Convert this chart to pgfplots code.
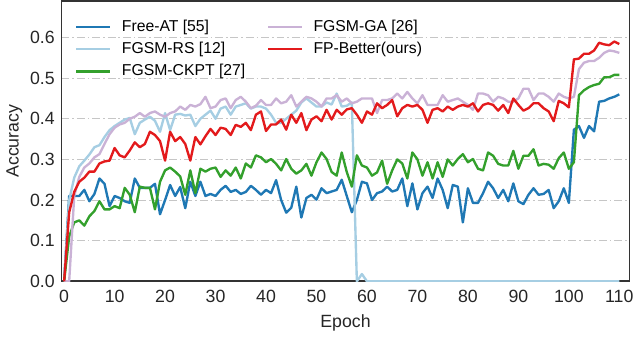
\documentclass[border=0pt]{standalone}
\usepackage{fontspec}
\setmainfont{Liberation Sans}
\usepackage{pgfplots}
\usepackage{pgfplotstable}
\pgfplotsset{compat=1.18}

\definecolor{cfree}{HTML}{1F78B4}
\definecolor{crs}{HTML}{A6CEE3}
\definecolor{cckpt}{HTML}{33A02C}
\definecolor{cga}{HTML}{CAB2D6}
\definecolor{cfp}{HTML}{E31A1C}
\definecolor{frame}{HTML}{333333}

% epoch, Free-AT, FGSM-RS, FGSM-CKPT, FGSM-GA, FP-Better
\pgfplotstableread{
ep freeat rs ckpt ga fp
0 0 0 0 0 0
1 0.21 0.20 0.11 0.0 0.17
2 0.21 0.255 0.145 0.21 0.22
3 0.21 0.283 0.15 0.257 0.245
4 0.225 0.297 0.137 0.28 0.255
5 0.197 0.312 0.16 0.29 0.27
6 0.215 0.33 0.173 0.305 0.27
7 0.253 0.335 0.197 0.313 0.29
8 0.24 0.355 0.177 0.338 0.295
9 0.185 0.372 0.177 0.362 0.297
10 0.21 0.382 0.185 0.378 0.328
11 0.205 0.39 0.18 0.386 0.31
12 0.197 0.398 0.23 0.39 0.305
13 0.193 0.402 0.213 0.40 0.322
14 0.253 0.362 0.17 0.405 0.342
15 0.23 0.39 0.233 0.414 0.33
16 0.23 0.398 0.23 0.405 0.338
17 0.23 0.405 0.23 0.414 0.368
18 0.24 0.395 0.177 0.418 0.36
19 0.165 0.368 0.245 0.41 0.345
20 0.20 0.414 0.273 0.405 0.297
21 0.237 0.372 0.28 0.414 0.368
22 0.21 0.41 0.27 0.418 0.345
23 0.232 0.412 0.258 0.43 0.355
24 0.18 0.408 0.213 0.422 0.338
25 0.245 0.41 0.273 0.434 0.297
26 0.21 0.382 0.217 0.43 0.355
27 0.245 0.40 0.277 0.436 0.337
28 0.21 0.41 0.27 0.454 0.357
29 0.215 0.42 0.277 0.426 0.375
30 0.21 0.40 0.28 0.43 0.36
31 0.225 0.425 0.257 0.446 0.378
32 0.235 0.43 0.273 0.45 0.375
33 0.22 0.41 0.26 0.426 0.36
34 0.225 0.43 0.28 0.446 0.385
35 0.215 0.434 0.253 0.454 0.38
36 0.22 0.438 0.29 0.442 0.39
37 0.235 0.425 0.28 0.426 0.372
38 0.225 0.43 0.31 0.432 0.41
39 0.213 0.43 0.305 0.446 0.418
40 0.225 0.425 0.293 0.434 0.37
41 0.217 0.41 0.301 0.434 0.386
42 0.249 0.39 0.289 0.45 0.386
43 0.20 0.39 0.273 0.438 0.398
44 0.169 0.40 0.301 0.442 0.373
45 0.181 0.41 0.277 0.458 0.41
46 0.233 0.42 0.265 0.43 0.39
47 0.157 0.44 0.273 0.442 0.414
48 0.205 0.45 0.289 0.454 0.372
49 0.213 0.44 0.26 0.45 0.398
50 0.201 0.43 0.293 0.442 0.406
51 0.229 0.43 0.317 0.43 0.394
52 0.217 0.44 0.301 0.45 0.422
53 0.221 0.435 0.269 0.45 0.398
54 0.225 0.462 0.26 0.458 0.422
55 0.25 0.43 0.317 0.442 0.41
56 0.21 0.432 0.269 0.45 0.423
57 0.17 0.44 0.233 0.438 0.426
58 0.20 0.0 0.31 0.442 0.41
59 0.245 0.018 0.285 0.45 0.39
60 0.241 0 0.28 0.45 0.418
61 0.2 0 0.26 0.45 0.41
62 0.217 0 0.268 0.414 0.438
63 0.221 0 0.297 0.446 0.426
64 0.233 0 0.24 0.446 0.434
65 0.221 0 0.273 0.45 0.446
66 0.225 0 0.30 0.462 0.406
67 0.253 0 0.29 0.45 0.426
68 0.185 0 0.253 0.466 0.434
69 0.241 0 0.317 0.45 0.43
70 0.177 0 0.30 0.438 0.434
71 0.217 0 0.26 0.458 0.422
72 0.233 0 0.293 0.434 0.39
73 0.205 0 0.253 0.434 0.422
74 0.253 0 0.293 0.434 0.426
75 0.225 0 0.257 0.458 0.418
76 0.18 0 0.30 0.442 0.43
77 0.237 0 0.285 0.446 0.422
78 0.233 0 0.301 0.45 0.43
79 0.145 0 0.313 0.442 0.434
80 0.229 0 0.293 0.434 0.43
81 0.193 0 0.301 0.422 0.438
82 0.193 0 0.277 0.462 0.418
83 0.217 0 0.273 0.462 0.434
84 0.245 0 0.317 0.458 0.438
85 0.229 0 0.309 0.442 0.434
86 0.205 0 0.289 0.454 0.42
87 0.225 0 0.285 0.45 0.434
88 0.197 0 0.285 0.442 0.414
89 0.241 0 0.321 0.442 0.45
90 0.197 0 0.277 0.45 0.434
91 0.19 0 0.309 0.474 0.42
92 0.213 0 0.309 0.474 0.426
93 0.229 0 0.325 0.446 0.438
94 0.213 0 0.285 0.462 0.438
95 0.215 0 0.289 0.462 0.426
96 0.225 0 0.287 0.454 0.418
97 0.18 0 0.277 0.442 0.394
98 0.197 0 0.303 0.462 0.444
99 0.229 0 0.317 0.454 0.438
100 0.193 0 0.277 0.45 0.428
101 0.373 0 0.293 0.454 0.546
102 0.382 0 0.458 0.522 0.548
103 0.353 0 0.47 0.538 0.56
104 0.382 0 0.478 0.542 0.56
105 0.369 0 0.483 0.542 0.568
106 0.442 0 0.486 0.55 0.587
107 0.444 0 0.502 0.562 0.583
108 0.45 0 0.502 0.568 0.581
109 0.454 0 0.508 0.566 0.59
110 0.46 0 0.508 0.562 0.584
}\acc

\begin{document}
\begin{tikzpicture}
\begin{axis}[
    scale only axis,
    width=288.5pt, height=142.5pt,
    xmin=-0.5, xmax=112, ymin=0, ymax=0.69,
    xtick={0,10,...,110}, ytick={0,0.1,...,0.6},
    yticklabel style={/pgf/number format/.cd, fixed, fixed zerofill, precision=1},
    /pgf/number format/assume math mode=true,
    tick label style={font=\fontsize{9}{10}\selectfont, text=black!85},
    xticklabel style={yshift=-1pt},
    label style={font=\fontsize{9}{10}\selectfont, text=black!85},
    major tick length=0pt,
    xlabel={Epoch}, ylabel={Accuracy},
    xlabel style={yshift=1pt}, ylabel style={yshift=-3pt},
    ymajorgrids,
    grid style={gray!45, line width=0.5pt, dash pattern=on 4pt off 1.5pt on 0.8pt off 1.5pt},
    axis line style={frame, line width=0.9pt},
    every axis plot/.append style={line width=1.2pt, line join=round},
    legend columns=2,
    legend cell align=left,
    legend style={at={(0.013,0.962)}, anchor=north west, draw=none, fill=none,
        font=\fontsize{8}{9}\selectfont, row sep=0pt,
        /tikz/every even column/.append style={column sep=9pt}},
    legend image code/.code={\draw[#1] (0pt,0pt) -- (17pt,0pt); \path (20.5pt,0pt);},
]
\addplot[cfree, forget plot] table[x=ep, y=freeat] {\acc};
\addplot[crs, forget plot] table[x=ep, y=rs] {\acc};
\addplot[cckpt, forget plot] table[x=ep, y=ckpt] {\acc};
\addplot[cga, forget plot] table[x=ep, y=ga] {\acc};
\addplot[cfp, forget plot] table[x=ep, y=fp] {\acc};
\addlegendimage{cfree, line width=1.2pt}\addlegendentry{Free-AT [55]}
\addlegendimage{cga, line width=1.2pt}\addlegendentry{FGSM-GA [26]}
\addlegendimage{crs, line width=1.2pt}\addlegendentry{FGSM-RS [12]}
\addlegendimage{cfp, line width=1.2pt}\addlegendentry{FP-Better(ours)}
\addlegendimage{cckpt, line width=1.2pt}\addlegendentry{FGSM-CKPT [27]}
\end{axis}
\end{tikzpicture}
\end{document}
